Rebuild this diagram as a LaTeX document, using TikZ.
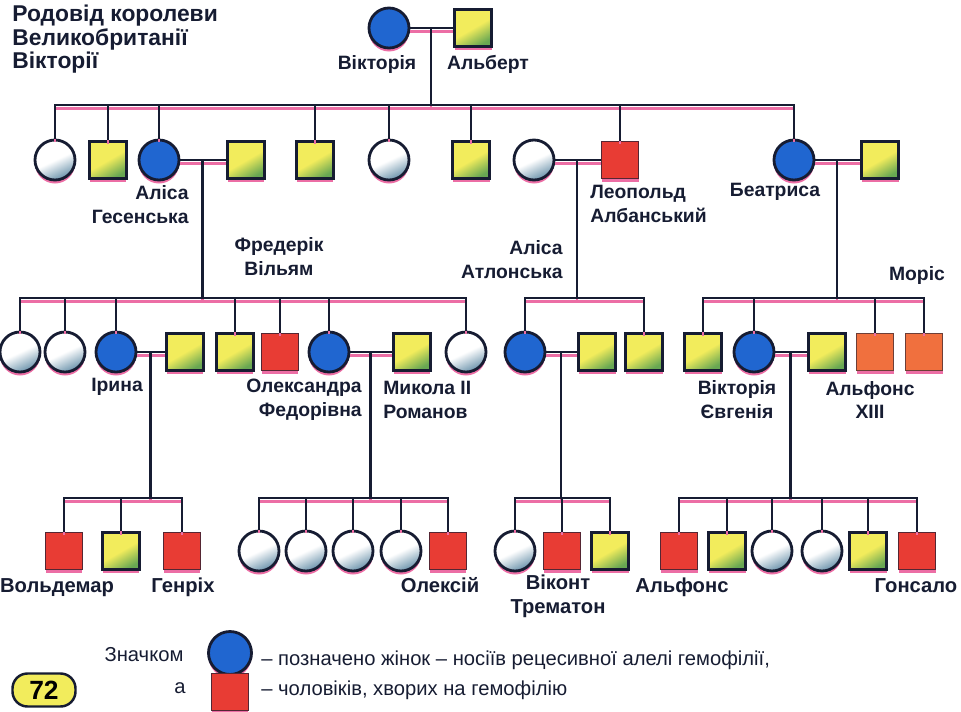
\documentclass[tikz,border=0pt]{standalone}
\usepackage{fontspec}
\setmainfont{Liberation Sans}
\usepackage{xcolor}
\definecolor{bleu}{RGB}{32,102,208}
\definecolor{jaune}{RGB}{242,236,92}
\definecolor{vertj}{RGB}{70,150,80}
\definecolor{rouge}{RGB}{232,60,52}
\definecolor{orangef}{RGB}{240,112,62}
\definecolor{rose}{RGB}{236,110,165}
\definecolor{encre}{RGB}{22,28,50}
\definecolor{grisb}{RGB}{105,145,170}
\usepackage{tikz}
\usetikzlibrary{calc,positioning,shadows}
\tikzset{
  ombre/.style={drop shadow={shadow xshift=0pt,shadow yshift=-0.07cm,fill=rose,opacity=1}},
  fem/.style={circle,draw=encre,line width=1.6pt,minimum size=0.8cm,inner sep=0pt,top color=white,bottom color=grisb,middle color=white,shading angle=25,ombre},
  carrier/.style={circle,draw=encre,line width=1.6pt,minimum size=0.8cm,inner sep=0pt,fill=bleu,ombre},
  male/.style={rectangle,draw=encre,line width=1.6pt,minimum size=0.74cm,inner sep=0pt,top color=jaune,bottom color=vertj!80!jaune,middle color=jaune,shading angle=30,ombre},
  sick/.style={rectangle,draw=encre!70!rouge,line width=1pt,minimum size=0.74cm,inner sep=0pt,fill=rouge,ombre},
  sicko/.style={rectangle,draw=encre!60!orangef,line width=1pt,minimum size=0.74cm,inner sep=0pt,fill=orangef,ombre},
  line/.style={draw=encre,line width=1.3pt},
  rline/.style={draw=rose,line width=1.3pt},
  nom/.style={font=\fontsize{11}{13.6}\selectfont\bfseries,text=encre,inner sep=0pt,align=center},
  nomb/.style={font=\fontsize{11.5}{13.6}\selectfont\bfseries,text=encre,inner sep=0pt,align=center},
  titre/.style={font=\fontsize{13}{11.6}\selectfont\bfseries,text=encre,inner sep=0pt,align=left},
  leg/.style={font=\fontsize{11.5}{14}\selectfont,text=encre,inner sep=0pt},
  page/.style={rectangle,rounded corners=0.3cm,draw=encre,line width=1.4pt,fill=jaune,minimum width=1.26cm,minimum height=0.66cm,font=\fontsize{15}{15}\selectfont\bfseries},
}
\newcommand{\liens}{
      \path (vic) -- (alb);
      \path (alisa) -- (ludwig);
      \path (helena) -- (leo);
      \path (beat) -- (henry);
      \path (irina) -- (heinr);
      \path (alix) -- (nik);
      \path (alath) -- (alex);
      \path (ena) -- (alf);
      \path (m0) -- (b0);
      \path (m1) -- (b1);
      \path (m2) -- (b2);
      \path (m3) -- (b3);
      \path (m4) -- (b4);
      \path (m5) -- (b5);
      \path (m6) -- (b6);
      \path (m7) -- (b7);
      \foreach \n in {a1,a2,alisa,a4,a5,a6,leo,beat} {\path (b0) -| (\n);}
      \foreach \n in {c1,c2,irina,c4,c5,alix,c7} {\path (b1) -| (\n);}
      \foreach \n in {alath,c9} {\path (b2) -| (\n);}
      \foreach \n in {d1,ena,d3,maur} {\path (b3) -| (\n);}
      \foreach \n in {e1,e2,e3} {\path (b4) -| (\n);}
      \foreach \n in {f1,f2,f3,f4,f5} {\path (b5) -| (\n);}
      \foreach \n in {g1,g2,g3} {\path (b6) -| (\n);}
      \foreach \n in {h1,h2,h3,h4,h5,h6} {\path (b7) -| (\n);}
}
\begin{document}
\begin{tikzpicture}[x=0.02cm,y=-0.02cm]
    \useasboundingbox (0,0) rectangle (961,711);

    \node[titre,anchor=north west] (titre) at (12,5) {Родовід королеви\\Великобританії\\Вікторії};

    \node[carrier] (vic) at (389,28) {};
    \node[male] (alb) at (473,28) {};

    \node[fem] (a1) at (55,160) {};
    \node[male] (a2) at (108,160) {};
    \node[carrier] (alisa) at (159,160) {};
    \node[male] (ludwig) at (246,160) {};
    \node[male] (a4) at (315,160) {};
    \node[fem] (a5) at (389,160) {};
    \node[male] (a6) at (471,160) {};
    \node[fem] (helena) at (534,160) {};
    \node[sick] (leo) at (620,160) {};
    \node[carrier] (beat) at (794,160) {};
    \node[male] (henry) at (880,160) {};

    \node[fem] (c1) at (20,352) {};
    \node[fem] (c2) at (65,352) {};
    \node[carrier] (irina) at (116,352) {};
    \node[male] (heinr) at (185,352) {};
    \node[male] (c4) at (235,352) {};
    \node[sick] (c5) at (280,352) {};
    \node[carrier] (alix) at (329,352) {};
    \node[male] (nik) at (412,352) {};
    \node[fem] (c7) at (466,352) {};
    \node[carrier] (alath) at (525,352) {};
    \node[male] (alex) at (597,352) {};
    \node[male] (c9) at (644,352) {};
    \node[male] (d1) at (703,352) {};
    \node[carrier] (ena) at (754,352) {};
    \node[male] (alf) at (827,352) {};
    \node[sicko] (d3) at (875,352) {};
    \node[sicko] (maur) at (924,352) {};

    \node[sick] (e1) at (64,551) {};
    \node[male] (e2) at (121,551) {};
    \node[sick] (e3) at (182,551) {};
    \node[fem] (f1) at (259,551) {};
    \node[fem] (f2) at (306,551) {};
    \node[fem] (f3) at (353,551) {};
    \node[fem] (f4) at (401,551) {};
    \node[sick] (f5) at (448,551) {};
    \node[fem] (g1) at (515,551) {};
    \node[sick] (g2) at (562,551) {};
    \node[male] (g3) at (610,551) {};
    \node[sick] (h1) at (679,551) {};
    \node[male] (h2) at (727,551) {};
    \node[fem] (h3) at (772,551) {};
    \node[fem] (h4) at (822,551) {};
    \node[male] (h5) at (868,551) {};
    \node[sick] (h6) at (917,551) {};

    \coordinate (m0) at ($(vic)!0.5!(alb)$);
    \coordinate (b0) at ($(m0)+(0,77)$);
    \coordinate (m1) at ($(alisa)!0.5!(ludwig)$);
    \coordinate (b1) at ($(m1)+(0,138)$);
    \coordinate (m2) at ($(helena)!0.5!(leo)$);
    \coordinate (b2) at ($(m2)+(0,138)$);
    \coordinate (m3) at ($(beat)!0.5!(henry)$);
    \coordinate (b3) at ($(m3)+(0,138)$);
    \coordinate (m4) at ($(irina)!0.5!(heinr)$);
    \coordinate (b4) at ($(m4)+(0,146)$);
    \coordinate (m5) at ($(alix)!0.5!(nik)$);
    \coordinate (b5) at ($(m5)+(0,146)$);
    \coordinate (m6) at ($(alath)!0.5!(alex)$);
    \coordinate (b6) at ($(m6)+(0,146)$);
    \coordinate (m7) at ($(ena)!0.5!(alf)$);
    \coordinate (b7) at ($(m7)+(0,146)$);

    \begin{scope}[transform canvas={yshift=-0.07cm},every path/.style=rline]
      \liens
    \end{scope}
    \begin{scope}[every path/.style=line]
      \liens
    \end{scope}

    \node[nom] (lvic) at (377,64) {Вікторія};
    \node[nom] (lalb) at (488,64) {Альберт};
    \node[nom,align=right,anchor=east] (lalisa) at (189,205) {Аліса\\Гесенська};
    \node[nom] (lfred) at (279,257) {Фредерік\\Вільям};
    \node[nom,align=left,anchor=west] (lleo) at (590,204) {Леопольд\\Албанський};
    \node[nom] (lbeat) at (775,192) {Беатриса};
    \node[nom,align=right,anchor=east] (lalath) at (563,260) {Аліса\\Атлонська};
    \node[nom] (lmaur) at (917,275) {Моріс};
    \node[nom] (lirina) at (117,387) {Ірина};
    \node[nom,align=right,anchor=east] (lalix) at (362,400) {Олександра\\Федорівна};
    \node[nom,align=left,anchor=west] (lnik) at (383,400) {Микола II\\Романов};
    \node[nom] (lena) at (737,400) {Вікторія\\Євгенія};
    \node[nom] (lalf) at (870,400) {Альфонс\\XIII};

    \node[nomb,anchor=base] (lwal) at (57,592) {Вольдемар};
    \node[nomb,anchor=base] (lhen) at (183,592) {Генріх};
    \node[nomb,anchor=base] (lalek) at (440,592) {Олексій};
    \node[nomb] (ltrem) at (558,596) {Віконт\\Трематон};
    \node[nomb,anchor=base] (lalfs) at (682,592) {Альфонс};
    \node[nomb,anchor=base] (lgon) at (916,592) {Гонсало};

    \node[leg] (lz) at (144,655) {Значком};
    \node[carrier,minimum size=0.86cm] (legc) at (230,653) {};
    \node[leg,anchor=west] (lt1) at (261,660) {– позначено жінок – носіїв рецесивної алелі гемофілії,};
    \node[leg] (la) at (180,688) {а};
    \node[sick] (legs) at (230,692) {};
    \node[leg,anchor=west] (lt2) at (261,690) {– чоловіків, хворих на гемофілію};
    \node[page] (num) at (44,690) {72};

\end{tikzpicture}
\end{document}
